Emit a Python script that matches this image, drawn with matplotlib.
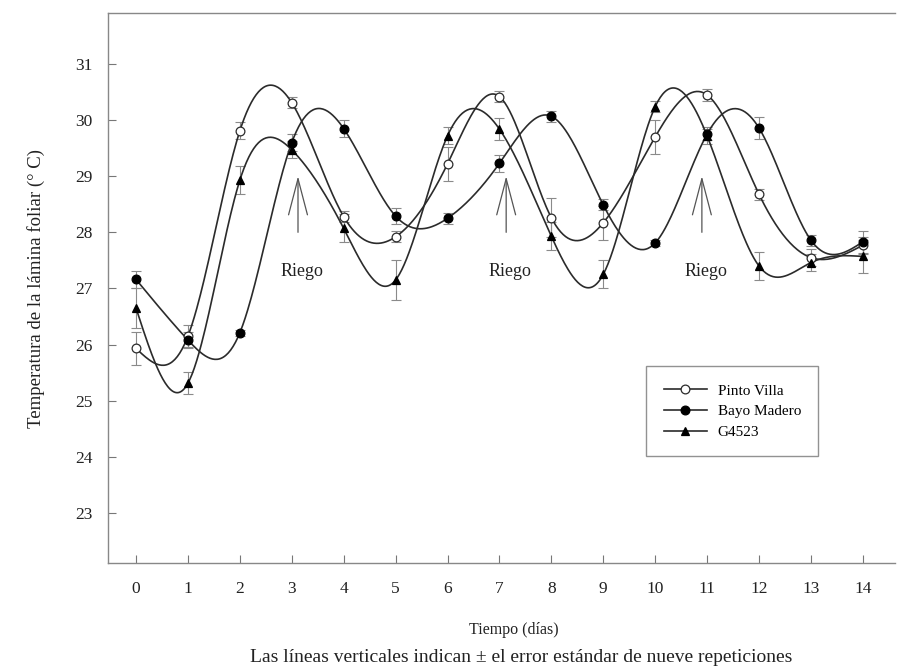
import numpy as np
import matplotlib
matplotlib.use("Agg")
import matplotlib.pyplot as plt

# ---- data ----
dias = [0, 1, 2, 3, 4, 5, 6, 7, 8, 9, 10, 11, 12, 13, 14]
pinto_villa = [25.93, 26.15, 29.81, 30.31, 28.28, 27.92, 29.22, 30.42, 28.26, 28.17, 29.70, 30.45, 28.68, 27.55, 27.77]
pinto_villa_se = [0.30, 0.20, 0.15, 0.10, 0.10, 0.10, 0.30, 0.10, 0.35, 0.30, 0.30, 0.10, 0.10, 0.15, 0.15]
bayo_madero = [27.16, 26.08, 26.21, 29.60, 29.85, 28.29, 28.25, 29.23, 30.07, 28.49, 27.81, 29.75, 29.86, 27.86, 27.83]
bayo_madero_se = [0.15, 0.15, 0.05, 0.15, 0.15, 0.15, 0.10, 0.15, 0.10, 0.10, 0.05, 0.10, 0.20, 0.10, 0.20]
g4523 = [26.65, 25.31, 28.93, 29.47, 28.07, 27.15, 29.72, 29.84, 27.93, 27.25, 30.24, 29.72, 27.40, 27.46, 27.57]
g4523_se = [0.35, 0.20, 0.25, 0.15, 0.25, 0.35, 0.15, 0.20, 0.25, 0.25, 0.10, 0.15, 0.25, 0.15, 0.30]
riego_x = [3.12, 7.13, 10.9]
riego_label = "Riego"
series_names = ["Pinto Villa", "Bayo Madero", "G4523"]

plt.rcParams['font.family'] = ['Liberation Serif', 'DejaVu Serif']


def natural_spline(x, y, xs):
    x = np.asarray(x, float); y = np.asarray(y, float)
    n = len(x); h = np.diff(x)
    A = np.zeros((n, n)); r = np.zeros(n)
    A[0, 0] = 1; A[-1, -1] = 1
    for i in range(1, n - 1):
        A[i, i - 1] = h[i - 1]; A[i, i] = 2 * (h[i - 1] + h[i]); A[i, i + 1] = h[i]
        r[i] = 6 * ((y[i + 1] - y[i]) / h[i] - (y[i] - y[i - 1]) / h[i - 1])
    M = np.linalg.solve(A, r)
    idx = np.clip(np.searchsorted(x, xs) - 1, 0, n - 2)
    x0 = x[idx]; x1 = x[idx + 1]; hh = x1 - x0
    t0 = x1 - xs; t1 = xs - x0
    return (M[idx] * t0**3 / (6 * hh) + M[idx + 1] * t1**3 / (6 * hh)
            + (y[idx] / hh - M[idx] * hh / 6) * t0 + (y[idx + 1] / hh - M[idx + 1] * hh / 6) * t1)


fig = plt.figure(figsize=(8.98, 6.66), dpi=100)
ax = fig.add_axes([108 / 898, 1 - 563 / 666, (895 - 108) / 898, (563 - 13) / 666])

line_c = '#2b2b2b'
err_c = '#8a8a8a'
xs = np.linspace(min(dias), max(dias), 600)

styles = [
    dict(marker='o', mfc='white', mec=line_c, ms=6.3, mew=0.9),
    dict(marker='o', mfc='black', mec='black', ms=6.3, mew=0.9),
    dict(marker='^', mfc='black', mec='black', ms=5.5, mew=0.9),
]
data = [(pinto_villa, pinto_villa_se), (bayo_madero, bayo_madero_se), (g4523, g4523_se)]

handles = []
for (vals, se), st, name in zip(data, styles, series_names):
    ax.errorbar(dias, vals, yerr=se, fmt='none', ecolor=err_c, elinewidth=0.8,
                capsize=3.5, capthick=0.8, zorder=2)
    ax.plot(xs, natural_spline(dias, vals, xs), color=line_c, lw=1.2, zorder=3)
    ax.plot(dias, vals, ls='none', zorder=4, **st)
    h, = ax.plot([], [], color=line_c, lw=1.2, **st)
    h.set_label(name)
    handles.append(h)

for rx in riego_x:
    ax.annotate('', xy=(rx, 29.0), xytext=(rx, 28.0),
                arrowprops=dict(arrowstyle='->,head_length=2.6,head_width=0.68',
                                color='#555555', lw=0.9, mutation_scale=10,
                                shrinkA=0, shrinkB=0))
    ax.text(rx + 0.07, 27.31, riego_label, ha='center', va='center',
            fontsize=13, color='#222222')

ax.set_xlim(-0.54, 14.62)
ax.set_ylim(22.105, 31.91)
ax.set_xticks(dias)
ax.set_yticks([23, 24, 25, 26, 27, 28, 29, 30, 31])
ax.tick_params(direction='in', length=6, width=0.8, color='#777777',
               labelsize=12.5, labelcolor='#222222')
ax.tick_params(axis='y', pad=11)
ax.tick_params(axis='x', pad=13)
ax.spines['right'].set_visible(False)
for s in ['left', 'bottom', 'top']:
    ax.spines[s].set_color('#888888')
    ax.spines[s].set_linewidth(1.0)

ax.set_ylabel('Temperatura de la lámina foliar (° C)', fontsize=13.5,
              color='#222222', labelpad=22)

fig.text(514 / 898, 1 - 630 / 666, 'Tiempo (días)', ha='center', va='center',
         fontsize=11.5, color='#222222')
fig.text(521 / 898, 1 - 657 / 666,
         'Las líneas verticales indican ± el error estándar de nueve repeticiones',
         ha='center', va='center', fontsize=14, color='#222222')

leg = ax.legend(handles=handles, loc='center', bbox_to_anchor=(0.7935, 0.2755),
                fontsize=11, frameon=True, fancybox=False, borderpad=1.15,
                handlelength=2.8, handletextpad=0.7, labelspacing=0.45)
leg.get_frame().set_edgecolor('#777777')
leg.get_frame().set_linewidth(1.0)

fig.savefig('out.png', dpi=100)
